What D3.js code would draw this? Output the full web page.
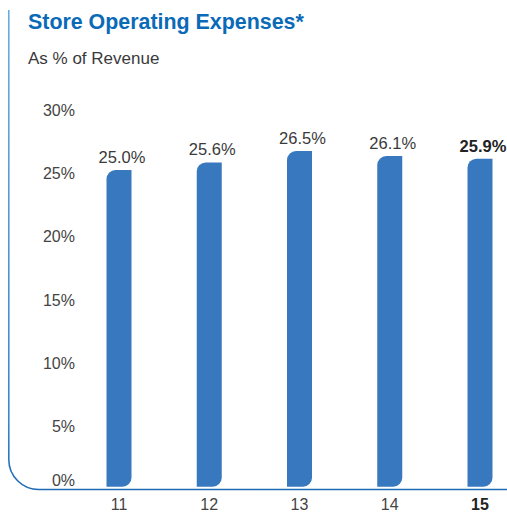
<!DOCTYPE html>
<html>
<head>
<meta charset="utf-8">
<script src="https://cdn.jsdelivr.net/npm/d3@7"></script>
<style>
  html, body { margin: 0; padding: 0; background: #fff; }
  svg { display: block; font-family: "Liberation Sans", Arial, sans-serif; }
</style>
</head>
<body>
<svg id="chart" width="507" height="514"></svg>
<script>
const years = ["11", "12", "13", "14", "15"];
const values = [25.0, 25.6, 26.5, 26.1, 25.9];
const ticks = [0, 5, 10, 15, 20, 25, 30];
const highlight = "15";

const W = 507, H = 514;
const svg = d3.select("#chart");

const y = d3.scaleLinear().domain([0, 30]).range([486.7, 106.7]);
const x = d3.scalePoint().domain(years).range([119, 480]);
const barW = 25, r = 9;

// frame: left line with rounded corner into the baseline
const grad = svg.append("defs").append("linearGradient")
    .attr("id", "frameGrad")
    .attr("gradientUnits", "userSpaceOnUse")
    .attr("x1", 0).attr("y1", 10).attr("x2", 0).attr("y2", 490);
grad.append("stop").attr("offset", "0%").attr("stop-color", "#69ade2");
grad.append("stop").attr("offset", "85%").attr("stop-color", "#3d86c9");
grad.append("stop").attr("offset", "100%").attr("stop-color", "#1d6ab5");

const fx = 8.8, fy = 489.5, cr = 30;
svg.append("path")
    .attr("d", `M${fx},10 V${fy - cr} A${cr},${cr} 0 0 0 ${fx + cr},${fy} H${W}`)
    .attr("fill", "none")
    .attr("stroke", "url(#frameGrad)")
    .attr("stroke-width", 1.6);

// title
svg.append("text")
    .attr("x", 28).attr("y", 29)
    .attr("fill", "#0a6ab8")
    .attr("font-size", 21.4)
    .attr("font-weight", "bold")
    .text("Store Operating Expenses*");

svg.append("text")
    .attr("x", 28).attr("y", 63.5)
    .attr("fill", "#3a3a3a")
    .attr("font-size", 17)
    .text("As % of Revenue");

// y tick labels
svg.append("g").selectAll("text")
    .data(ticks)
    .join("text")
    .attr("x", 75)
    .attr("y", d => d === 0 ? y(d) - 1 : y(d) + 9)
    .attr("text-anchor", "end")
    .attr("fill", "#444")
    .attr("font-size", 16)
    .text(d => d + "%");

// bars: rounded top-left and bottom-right
const barPath = (cx, top, bottom) => {
    const l = cx - barW / 2, rr = cx + barW / 2;
    return `M${l},${bottom} V${top + r} A${r},${r} 0 0 1 ${l + r},${top} H${rr}` +
        ` V${bottom - r} A${r},${r} 0 0 1 ${rr - r},${bottom} Z`;
};

svg.append("g").selectAll("path")
    .data(years)
    .join("path")
    .attr("d", (d, i) => barPath(x(d), y(values[i]), y(0)))
    .attr("fill", "#3878bf");

// value labels
svg.append("g").selectAll("text")
    .data(years)
    .join("text")
    .attr("x", d => x(d) + 3)
    .attr("y", (d, i) => y(values[i]) - 7)
    .attr("text-anchor", "middle")
    .attr("fill", d => d === highlight ? "#222" : "#3a3a3a")
    .attr("font-size", 16.5)
    .attr("font-weight", d => d === highlight ? "bold" : "normal")
    .text((d, i) => values[i].toFixed(1) + "%");

// x labels
svg.append("g").selectAll("text")
    .data(years)
    .join("text")
    .attr("x", d => x(d))
    .attr("y", 510)
    .attr("text-anchor", "middle")
    .attr("fill", d => d === highlight ? "#222" : "#444")
    .attr("font-size", 16)
    .attr("font-weight", d => d === highlight ? "bold" : "normal")
    .text(d => d);
</script>
</body>
</html>
